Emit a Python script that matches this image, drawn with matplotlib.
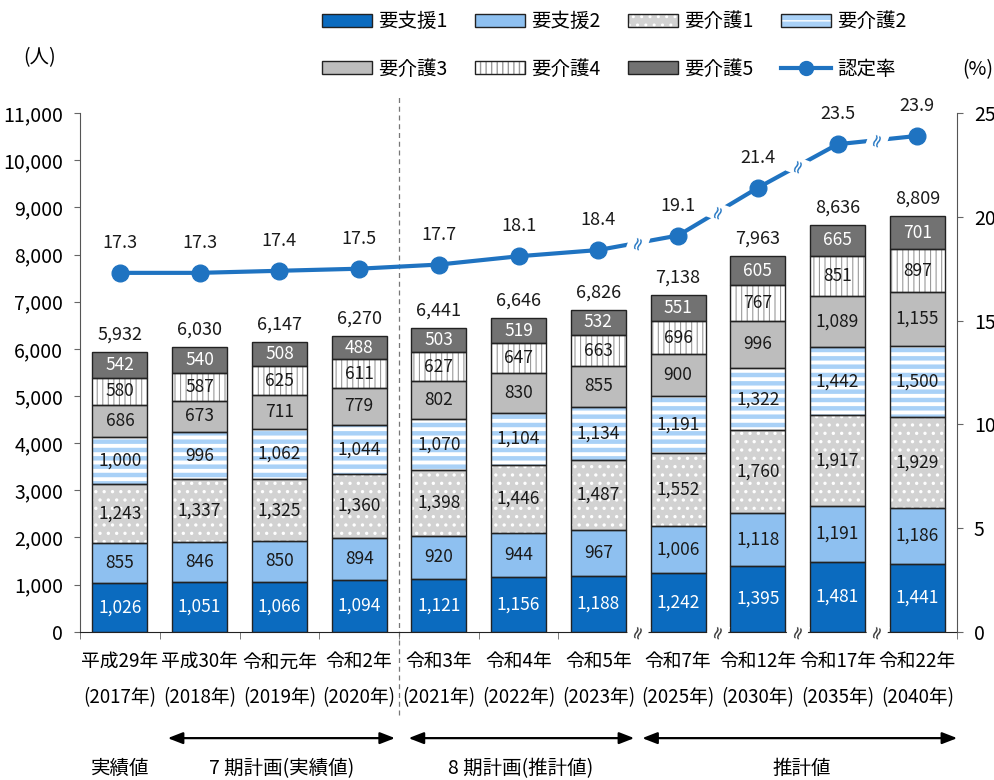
import matplotlib
matplotlib.use("Agg")
import matplotlib.pyplot as plt
import matplotlib.patches as mpatches
import matplotlib.transforms as mtransforms
from matplotlib.lines import Line2D
from matplotlib.legend_handler import HandlerTuple
import numpy as np

plt.rcParams["font.family"] = ["Noto Sans CJK JP", "DejaVu Sans"]

# 年度ラベル
era_labels = ["平成29年", "平成30年", "令和元年", "令和2年", "令和3年", "令和4年",
              "令和5年", "令和7年", "令和12年", "令和17年", "令和22年"]
year_labels = ["(2017年)", "(2018年)", "(2019年)", "(2020年)", "(2021年)", "(2022年)",
               "(2023年)", "(2025年)", "(2030年)", "(2035年)", "(2040年)"]

# 要介護度別認定者数（人）
shien1 = [1026, 1051, 1066, 1094, 1121, 1156, 1188, 1242, 1395, 1481, 1441]
shien2 = [855, 846, 850, 894, 920, 944, 967, 1006, 1118, 1191, 1186]
kaigo1 = [1243, 1337, 1325, 1360, 1398, 1446, 1487, 1552, 1760, 1917, 1929]
kaigo2 = [1000, 996, 1062, 1044, 1070, 1104, 1134, 1191, 1322, 1442, 1500]
kaigo3 = [686, 673, 711, 779, 802, 830, 855, 900, 996, 1089, 1155]
kaigo4 = [580, 587, 625, 611, 627, 647, 663, 696, 767, 851, 897]
kaigo5 = [542, 540, 508, 488, 503, 519, 532, 551, 605, 665, 701]

# 認定率（%）
rate = [17.3, 17.3, 17.4, 17.5, 17.7, 18.1, 18.4, 19.1, 21.4, 23.5, 23.9]

level_names = ["要支援1", "要支援2", "要介護1", "要介護2", "要介護3", "要介護4", "要介護5"]
series = [shien1, shien2, kaigo1, kaigo2, kaigo3, kaigo4, kaigo5]

# (塗り, ハッチ, ハッチ色, ハッチ線幅, 数値の文字色)
styles = [
    ("#0b6bbf", None, "#0b6bbf", 1.0, "white"),
    ("#8ec0f0", None, "#8ec0f0", 1.0, "#1a1a1a"),
    ("#d2d2d2", "..", "white", 1.2, "#1a1a1a"),
    ("#a9d1f7", "--", "white", 2.8, "#1a1a1a"),
    ("#bdbdbd", None, "#bdbdbd", 1.0, "#1a1a1a"),
    ("white", "|||", "#9a9a9a", 0.8, "#1a1a1a"),
    ("#727272", None, "#727272", 1.0, "white"),
]

line_color = "#1f73c1"
outline = "#222222"

fig = plt.figure(figsize=(9.94, 7.8), dpi=100)
ax = fig.add_axes([0.0805, 0.19, 0.8825, 0.665])
ax2 = ax.twinx()

x = np.arange(len(era_labels))
width = 0.69


def hatched_patch(fc, hatch, hc, hlw):
    p = mpatches.Patch(facecolor=fc, hatch=hatch, edgecolor=hc, linewidth=0)
    if hasattr(p, "set_hatch_linewidth"):
        p.set_hatch_linewidth(hlw)
    return p


bottom = np.zeros(len(x))
handles = []
for vals, name, (fc, hatch, hc, hlw, tc) in zip(series, level_names, styles):
    vals = np.array(vals, dtype=float)
    with plt.rc_context({"hatch.linewidth": hlw}):
        bars = ax.bar(x, vals, width, bottom=bottom, color=fc, hatch=hatch,
                      edgecolor=hc, linewidth=0, zorder=2)
    for b in bars:
        if hasattr(b, "set_hatch_linewidth"):
            b.set_hatch_linewidth(hlw)
    ax.bar(x, vals, width, bottom=bottom, fill=False, edgecolor=outline,
           linewidth=1.0, zorder=3)
    for xi, b0, v in zip(x, bottom, vals):
        ax.text(xi, b0 + v / 2, f"{int(v):,}", ha="center", va="center",
                color=tc, fontsize=12.5, zorder=4)
    bottom += vals
    with plt.rc_context({"hatch.linewidth": hlw}):
        hp = hatched_patch(fc, hatch, hc, hlw)
    handles.append((hp, mpatches.Patch(fill=False, edgecolor=outline, linewidth=1.0)))

# 合計
for xi, t in zip(x, bottom):
    ax.annotate(f"{int(t):,}", (xi, t), xytext=(0, 6), textcoords="offset points",
                ha="center", va="bottom", fontsize=13, color="#1a1a1a")

ax.set_xlim(-0.5, len(x) - 0.5)
ax.set_ylim(0, 11000)
ax.set_yticks(np.arange(0, 11001, 1000))
ax.set_yticklabels([f"{v:,}" for v in range(0, 11001, 1000)], fontsize=14)
ax.set_xticks(x)
ax.set_xticklabels([f"{a}\n{b}" for a, b in zip(era_labels, year_labels)],
                   fontsize=13.5, linespacing=1.95)
ax.tick_params(axis="x", length=0, pad=14)
ax.set_xticks(np.arange(-0.5, len(x), 1), minor=True)
ax.tick_params(axis="x", which="minor", length=5, color="#666666", direction="out")
ax.tick_params(axis="y", length=4, color="#666666", pad=8)
for s in ["top", "right"]:
    ax.spines[s].set_visible(False)
ax.spines["left"].set_color("#555555")
ax.spines["bottom"].set_color(outline)

# 認定率
ax2.plot(x, rate, color=line_color, lw=3, marker="o", ms=12, zorder=5, clip_on=False)
for xi, r in zip(x, rate):
    ax2.annotate(f"{r:.1f}", (xi, r), xytext=(0, 15), textcoords="offset points",
                 ha="center", va="bottom", fontsize=13, color="#1a1a1a")
ax2.set_ylim(0, 25)
ax2.set_yticks(np.arange(0, 26, 5))
ax2.set_yticklabels([str(v) for v in range(0, 26, 5)], fontsize=14)
ax2.tick_params(axis="y", length=4, color="#666666", pad=8)
for s in ["top", "left", "bottom"]:
    ax2.spines[s].set_visible(False)
ax2.spines["right"].set_color("#555555")

# 省略記号（≈）
for i in range(6, len(x) - 1):
    mx = (x[i] + x[i + 1]) / 2
    my = (rate[i] + rate[i + 1]) / 2
    ax2.text(mx, my, "≈", rotation=70, ha="center", va="center", fontsize=13,
             family="DejaVu Sans", color=line_color, zorder=6,
             bbox=dict(boxstyle="square,pad=0.05", fc="white", ec="none"))
    ax.text(mx, 0, "≈", rotation=70, ha="center", va="center", fontsize=13,
            family="DejaVu Sans", color="#333333", zorder=6, clip_on=False,
            bbox=dict(boxstyle="square,pad=0.05", fc="white", ec="none"))

# 実績値と計画値の区切り
trans = mtransforms.blended_transform_factory(ax.transData, ax.transAxes)
ax.plot([3.5, 3.5], [-0.16, 1.035], transform=trans, ls=(0, (4, 3)), lw=0.9,
        color="#777777", clip_on=False, zorder=1)

# 期間の矢印
arrow_y = -0.205
label_y = -0.264
for x0, x1 in [(0.6, 3.45), (3.62, 6.45), (6.55, 10.5)]:
    ax.annotate("", xy=(x1, arrow_y), xytext=(x0, arrow_y), xycoords=trans,
                textcoords=trans, annotation_clip=False,
                arrowprops=dict(arrowstyle="<|-|>,head_length=0.9,head_width=0.35",
                                color="black", lw=1.6, shrinkA=0, shrinkB=0))
for xt, txt in [(0, "実績値"), (2.03, "7 期計画(実績値)"), (5.02, "8 期計画(推計値)"),
                (8.55, "推計値")]:
    ax.text(xt, label_y, txt, transform=trans, ha="center", va="center",
            fontsize=14, clip_on=False)

fig.text(40 / 994, 1 - 58 / 780, "(人)", ha="center", va="center", fontsize=14)
fig.text(978 / 994, 1 - 70 / 780, "(%)", ha="center", va="center", fontsize=14)

handles.append(Line2D([], [], color=line_color, lw=3, marker="o", ms=10))
labels = level_names + ["認定率"]
# 凡例は行方向に並べる（4列×2行）
order = [0, 4, 1, 5, 2, 6, 3, 7]
fig.legend([handles[i] for i in order], [labels[i] for i in order], ncol=4,
           loc="upper center", bbox_to_anchor=(0.618, 1.008),
           frameon=False, fontsize=14, handlelength=2.6, handleheight=0.6,
           handletextpad=0.3, columnspacing=1.4, labelspacing=1.35,
           handler_map={tuple: HandlerTuple(ndivide=1)})

fig.savefig("out.png", dpi=100)
